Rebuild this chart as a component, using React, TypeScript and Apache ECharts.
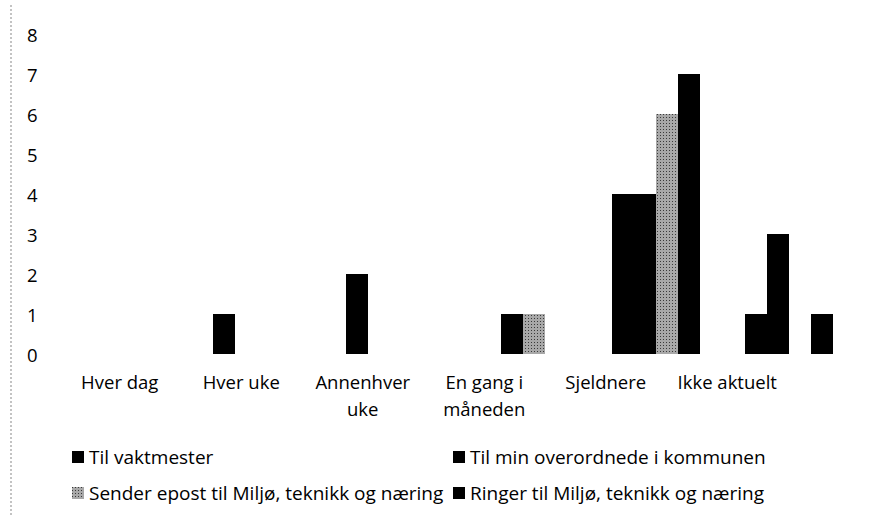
import React, { useEffect, useRef } from "react";
import * as echarts from "echarts";

const categories = ["Hver dag", "Hver uke", "Annenhver\nuke", "En gang i\nmåneden", "Sjeldnere", "Ikke aktuelt"];
const seriesNames = [
  "Til vaktmester",
  "Til min overordnede i kommunen",
  "Sender epost til Miljø, teknikk og næring",
  "Ringer til Miljø, teknikk og næring",
];
const vaktmester = [0, 1, 2, 0, 4, 1];
const overordnede = [0, 0, 0, 1, 4, 3];
const epost = [0, 0, 0, 1, 6, 0];
const ringer = [0, 0, 0, 0, 7, 1];
const yTicks = { min: 0, max: 8, interval: 1 };

const FONT = "'Open Sans', sans-serif";

export default function App() {
  const ref = useRef<HTMLDivElement>(null);
  useEffect(() => {
    if (!ref.current) return;
    const chart = echarts.init(ref.current, null, { renderer: "svg" });
    const black = { color: "#000000" };
    const pattern = {
      color: "#a8a8a8",
      decal: {
        symbol: "rect",
        symbolSize: 1,
        dashArrayX: [1, 2],
        dashArrayY: [1, 2],
        color: "rgba(30,30,30,0.8)",
        rotation: 0,
      },
    };
    const values = [vaktmester, overordnede, epost, ringer];
    const styles = [black, black, pattern, black];
    const legendText = { fontSize: 19, lineHeight: 20, color: "#000000", fontFamily: FONT };
    chart.setOption({
      animation: false,
      backgroundColor: "#ffffff",
      textStyle: { fontFamily: FONT },
      graphic: [
        {
          type: "line",
          shape: { x1: 11, y1: 5, x2: 11, y2: 515 },
          style: { stroke: "#b0b0b0", lineWidth: 1.5, lineDash: [2, 2] },
          silent: true,
        },
      ],
      grid: [
        { left: 57.5, right: 13.5, top: 34, bottom: 166 },
        { left: 59, width: 729, top: 34, bottom: 166 },
      ],
      xAxis: [
        {
          type: "category",
          gridIndex: 0,
          data: categories,
          axisLine: { show: false },
          axisTick: { show: false },
          axisLabel: { show: false },
        },
        {
          type: "category",
          gridIndex: 1,
          data: categories,
          axisLine: { show: false },
          axisTick: { show: false },
          axisLabel: {
            interval: 0,
            margin: 14,
            fontSize: 18.5,
            lineHeight: 27,
            color: "#000000",
            fontFamily: FONT,
          },
        },
      ],
      yAxis: [
        {
          type: "value",
          gridIndex: 0,
          min: yTicks.min,
          max: yTicks.max,
          interval: yTicks.interval,
          axisLine: { show: false },
          axisTick: { show: false },
          splitLine: { show: false },
          axisLabel: { margin: 20, fontSize: 18.5, color: "#000000", fontFamily: FONT },
        },
        {
          type: "value",
          gridIndex: 1,
          min: yTicks.min,
          max: yTicks.max,
          interval: yTicks.interval,
          show: false,
        },
      ],
      legend: [
        {
          data: [seriesNames[0], seriesNames[2]],
          orient: "vertical",
          left: 72,
          top: 447,
          padding: 0,
          icon: "rect",
          itemWidth: 12,
          itemHeight: 12,
          itemGap: 16,
          textStyle: legendText,
        },
        {
          data: [seriesNames[1], seriesNames[3]],
          orient: "vertical",
          left: 453,
          top: 447,
          padding: 0,
          icon: "rect",
          itemWidth: 12,
          itemHeight: 12,
          itemGap: 16,
          textStyle: legendText,
        },
      ],
      series: seriesNames.map((name, i) => ({
        name,
        type: "bar",
        xAxisIndex: 0,
        yAxisIndex: 0,
        data: values[i],
        barWidth: 22,
        barGap: "0%",
        itemStyle: styles[i],
      })),
    });
    return () => chart.dispose();
  }, []);
  return (
    <div
      ref={ref}
      style={{ position: "absolute", left: 0, top: 0, width: 869, height: 520 }}
    />
  );
}
